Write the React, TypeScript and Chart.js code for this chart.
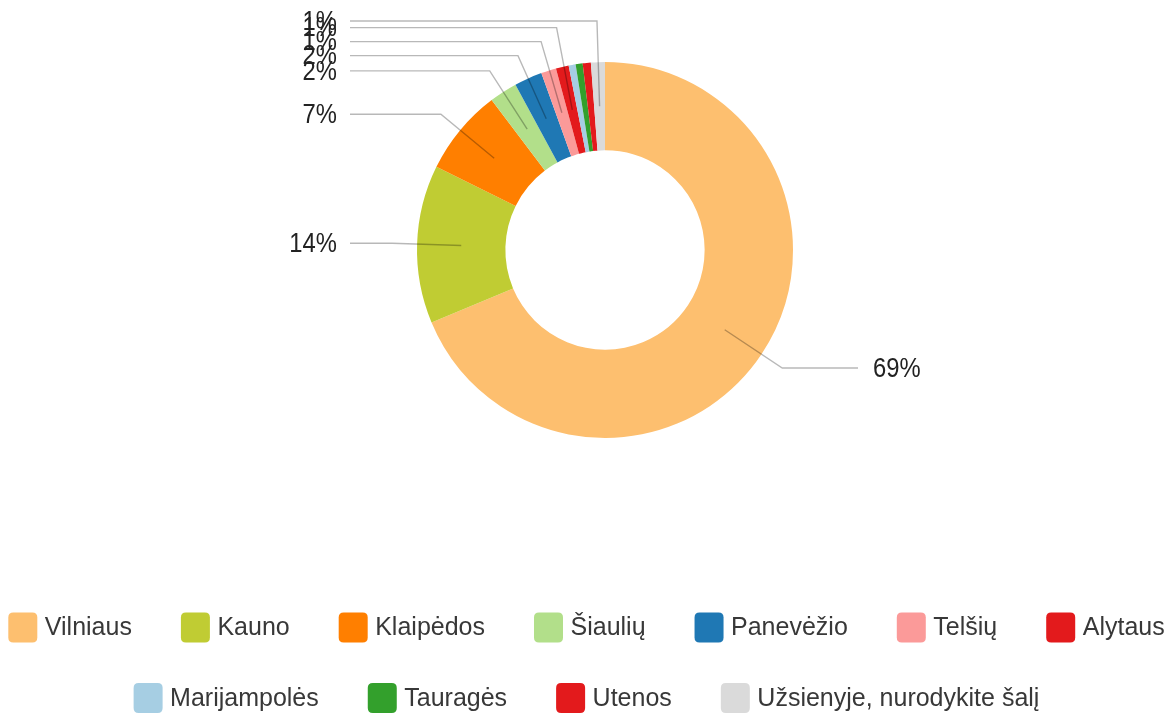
import React, { useEffect, useRef } from 'react';
import { Chart, registerables } from 'chart.js';

Chart.register(...registerables);

const categories = [
  'Vilniaus',
  'Kauno',
  'Klaipėdos',
  'Šiaulių',
  'Panevėžio',
  'Telšių',
  'Alytaus',
  'Marijampolės',
  'Tauragės',
  'Utenos',
  'Užsienyje, nurodykite šalį',
];
const shares = [68.7, 13.6, 7.4, 2.4, 2.4, 1.3, 1.1, 0.6, 0.6, 0.7, 1.2];
const colors = [
  '#fdbf6f',
  '#c0cc33',
  '#ff7f00',
  '#b2df8a',
  '#1f78b4',
  '#fb9a99',
  '#e31a1c',
  '#a6cee3',
  '#33a02c',
  '#e31a1c',
  '#dadada',
];

const FONT = "'Liberation Sans', Arial, sans-serif";
const LABEL_SIZE = 28;
const LABEL_SCALE_X = 0.85;
const LEGEND_SIZE = 25;

const outLabels = {
  id: 'outLabels',
  afterDatasetsDraw(chart: any) {
    const meta = chart.getDatasetMeta(0);
    const ctx = chart.ctx as CanvasRenderingContext2D;
    const total = shares.reduce((a, b) => a + b, 0);
    const items: any[] = [];
    meta.data.forEach((arc: any, i: number) => {
      const pct = (shares[i] / total) * 100;
      if (pct < 1) return;
      const p = arc.getProps(['x', 'y', 'startAngle', 'endAngle', 'innerRadius', 'outerRadius'], true);
      const mid = (p.startAngle + p.endAngle) / 2;
      const rm = (p.innerRadius + p.outerRadius) / 2;
      const re = p.outerRadius + 25;
      items.push({
        sx: p.x + Math.cos(mid) * rm,
        sy: p.y + Math.sin(mid) * rm,
        ex: p.x + Math.cos(mid) * re,
        ey: p.y + Math.sin(mid) * re,
        ly: p.y + Math.sin(mid) * re,
        left: Math.cos(mid) < 0,
        cx: p.x,
        R: p.outerRadius,
        text: Math.round(pct) + '%',
      });
    });
    const gap = 14;
    const minY = 21;
    [true, false].forEach((side) => {
      const list = items.filter((it) => it.left === side).sort((a, b) => a.ey - b.ey);
      for (let k = list.length - 2; k >= 0; k--) {
        list[k].ly = Math.min(list[k].ly, list[k + 1].ly - gap);
      }
      list.forEach((it) => {
        it.ly = Math.max(it.ly, minY);
      });
    });
    ctx.save();
    ctx.strokeStyle = 'rgba(0,0,0,0.28)';
    ctx.lineWidth = 1.4;
    ctx.font = `${LABEL_SIZE}px ${FONT}`;
    ctx.fillStyle = '#222';
    ctx.textBaseline = 'middle';
    items.forEach((it) => {
      const endX = it.left ? it.cx - it.R - 67 : it.cx + it.R + 65;
      ctx.beginPath();
      ctx.moveTo(it.sx, it.sy);
      ctx.lineTo(it.ex, it.ly);
      ctx.lineTo(endX, it.ly);
      ctx.stroke();
      ctx.save();
      ctx.translate(it.left ? endX - 13 : endX + 15, it.ly + 1);
      ctx.scale(LABEL_SCALE_X, 1);
      ctx.textAlign = it.left ? 'right' : 'left';
      ctx.fillText(it.text, 0, 0);
      ctx.restore();
    });
    ctx.restore();
  },
};

function roundRect(ctx: CanvasRenderingContext2D, x: number, y: number, w: number, h: number, r: number) {
  ctx.beginPath();
  ctx.moveTo(x + r, y);
  ctx.lineTo(x + w - r, y);
  ctx.quadraticCurveTo(x + w, y, x + w, y + r);
  ctx.lineTo(x + w, y + h - r);
  ctx.quadraticCurveTo(x + w, y + h, x + w - r, y + h);
  ctx.lineTo(x + r, y + h);
  ctx.quadraticCurveTo(x, y + h, x, y + h - r);
  ctx.lineTo(x, y + r);
  ctx.quadraticCurveTo(x, y, x + r, y);
  ctx.closePath();
}

const customLegend = {
  id: 'customLegend',
  afterDraw(chart: any) {
    const ctx = chart.ctx as CanvasRenderingContext2D;
    const boxW = 29;
    const boxH = 30;
    const textGap = 7.5;
    const itemGap = 49;
    const firstRowY = 627.5;
    const rowGap = 70.5;
    ctx.save();
    ctx.font = `${LEGEND_SIZE}px ${FONT}`;
    const widths = categories.map((c) => boxW + textGap + ctx.measureText(c).width);
    const rows: number[][] = [[]];
    let rowW = 0;
    const maxW = chart.width;
    widths.forEach((w, i) => {
      const cur = rows[rows.length - 1];
      const add = cur.length ? itemGap + w : w;
      if (cur.length && rowW + add > maxW) {
        rows.push([i]);
        rowW = w;
      } else {
        cur.push(i);
        rowW += add;
      }
    });
    rows.forEach((row, r) => {
      const total = row.reduce((s, i, k) => s + widths[i] + (k ? itemGap : 0), 0);
      let x = (chart.width - total) / 2;
      const cy = firstRowY + r * rowGap;
      row.forEach((i) => {
        ctx.fillStyle = colors[i];
        roundRect(ctx, x, cy - boxH / 2, boxW, boxH, 5);
        ctx.fill();
        ctx.fillStyle = '#383838';
        ctx.textAlign = 'left';
        ctx.textBaseline = 'middle';
        ctx.fillText(categories[i], x + boxW + textGap, cy + 1);
        x += widths[i] + itemGap;
      });
    });
    ctx.restore();
  },
};

export default function App() {
  const ref = useRef<HTMLCanvasElement | null>(null);
  useEffect(() => {
    if (!ref.current) return;
    const chart = new Chart(ref.current, {
      type: 'doughnut',
      data: {
        labels: categories,
        datasets: [
          {
            data: shares,
            backgroundColor: colors,
            borderWidth: 0,
            hoverOffset: 0,
          },
        ],
      },
      options: {
        animation: false,
        responsive: true,
        maintainAspectRatio: false,
        radius: 188,
        cutout: '53%',
        layout: { padding: { left: 37, right: 0, top: 20, bottom: 233 } },
        plugins: {
          legend: { display: false },
          tooltip: { enabled: false },
        },
      },
      plugins: [outLabels, customLegend],
    } as any);
    return () => chart.destroy();
  }, []);
  return (
    <div style={{ position: 'absolute', left: 0, top: 0, width: 1173, height: 713, background: '#fff' }}>
      <canvas ref={ref} />
    </div>
  );
}
